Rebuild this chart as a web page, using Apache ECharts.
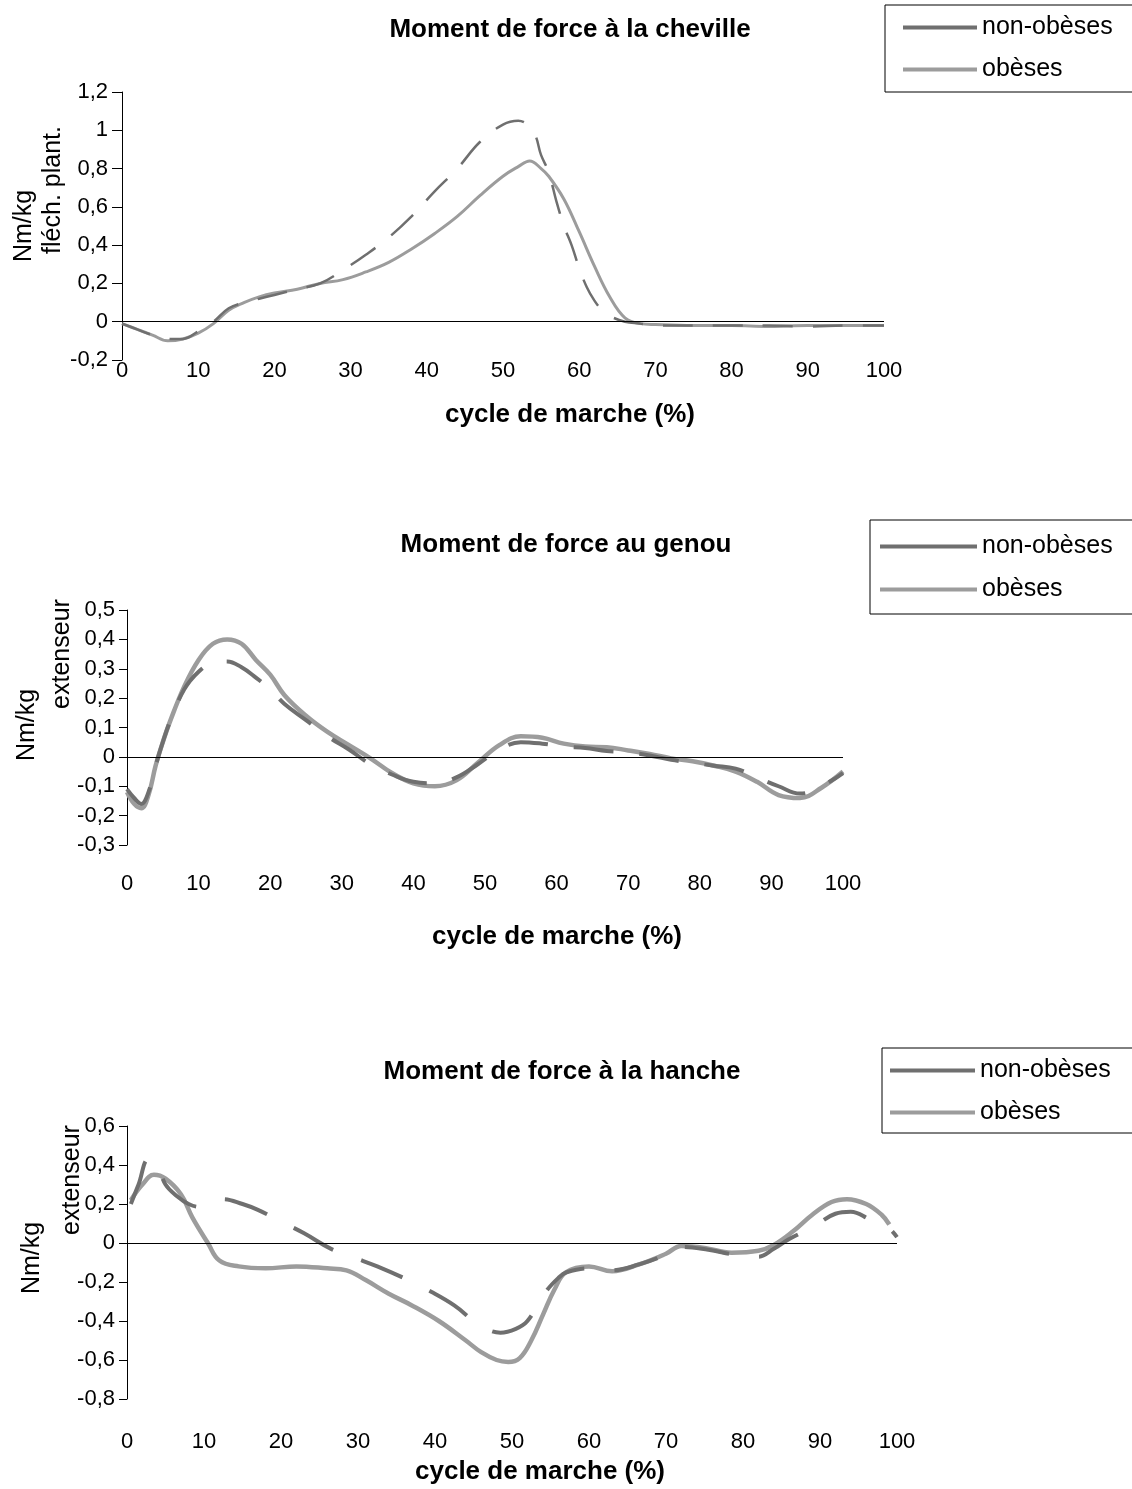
<!DOCTYPE html>
<html>
<head>
<meta charset="utf-8">
<script src="https://cdn.jsdelivr.net/npm/echarts@6/dist/echarts.min.js"></script>
<style>
  html, body { margin: 0; padding: 0; background: #fff; }
  #main { width: 1132px; height: 1489px; }
</style>
</head>
<body>
<div id="main"></div>
<script>
// cheville
const ankleObeseX = [0, 2, 4, 6, 8, 10, 12, 14, 16, 18, 20, 23, 26, 29, 32, 35, 38, 41, 44, 47, 50, 52, 53.5, 55, 56, 58, 60, 62, 64, 66, 68, 70, 75, 80, 85, 90, 95, 100];
const ankleObese = [-0.01, -0.04, -0.07, -0.1, -0.09, -0.06, -0.01, 0.06, 0.1, 0.13, 0.15, 0.17, 0.2, 0.22, 0.26, 0.31, 0.38, 0.46, 0.55, 0.66, 0.76, 0.81, 0.84, 0.8, 0.76, 0.64, 0.47, 0.29, 0.13, 0.02, -0.01, -0.015, -0.02, -0.02, -0.025, -0.02, -0.02, -0.02];
const ankleNonObeseX = [0, 2, 4, 6, 8, 10, 12, 14, 16, 18, 20, 23, 26, 29, 32, 35, 38, 41, 44, 47, 50, 52, 54, 55, 56, 57, 58, 59, 60, 61, 62, 63, 64, 66, 68, 70, 75, 80, 85, 90, 95, 100];
const ankleNonObese = [-0.01, -0.04, -0.07, -0.09, -0.09, -0.05, 0, 0.07, 0.1, 0.12, 0.14, 0.17, 0.2, 0.27, 0.35, 0.44, 0.55, 0.68, 0.8, 0.94, 1.03, 1.05, 0.99, 0.87, 0.78, 0.63, 0.5, 0.4, 0.28, 0.18, 0.11, 0.06, 0.03, 0, -0.01, -0.02, -0.02, -0.02, -0.02, -0.025, -0.02, -0.02];

// genou
const kneeCycle = [0, 1, 2, 3, 4, 5, 6, 8, 10, 12, 14, 16, 18, 20, 22, 25, 28, 31, 34, 37, 40, 43, 46, 49, 52, 55, 58, 61, 64, 67, 70, 73, 76, 79, 82, 85, 88, 91, 94, 97, 100];
const kneeObese = [-0.12, -0.16, -0.175, -0.13, -0.03, 0.05, 0.12, 0.24, 0.33, 0.385, 0.4, 0.385, 0.33, 0.28, 0.21, 0.14, 0.085, 0.04, -0.005, -0.055, -0.09, -0.1, -0.08, -0.02, 0.04, 0.07, 0.065, 0.045, 0.035, 0.033, 0.022, 0.01, -0.005, -0.015, -0.03, -0.05, -0.085, -0.13, -0.14, -0.105, -0.05];
const kneeNonObese = [-0.11, -0.14, -0.16, -0.12, -0.03, 0.05, 0.12, 0.23, 0.29, 0.32, 0.325, 0.305, 0.27, 0.23, 0.18, 0.125, 0.07, 0.025, -0.025, -0.06, -0.085, -0.09, -0.07, -0.025, 0.025, 0.05, 0.045, 0.035, 0.03, 0.02, 0.015, 0.005, -0.01, -0.02, -0.03, -0.04, -0.07, -0.1, -0.125, -0.1, -0.055];

// hanche
const hipObeseX = [0.5, 2, 3.5, 5, 7, 8.5, 10.5, 12, 14.5, 18, 22, 26, 28.5, 31, 34, 37, 40.5, 44, 46, 48, 49.5, 51, 52.5, 54, 55.5, 57, 60, 63, 66.5, 70, 72, 75, 78.5, 82, 84, 86.5, 89, 91.5, 93.5, 96, 98, 99];
const hipObese = [0.22, 0.3, 0.35, 0.33, 0.25, 0.13, 0, -0.09, -0.12, -0.13, -0.12, -0.13, -0.14, -0.19, -0.26, -0.32, -0.4, -0.5, -0.56, -0.6, -0.61, -0.59, -0.5, -0.37, -0.24, -0.15, -0.12, -0.145, -0.11, -0.055, -0.015, -0.025, -0.05, -0.04, -0.01, 0.06, 0.145, 0.21, 0.225, 0.2, 0.145, 0.095];
const hipNonObeseX = [0.5, 1.5, 2.8, 3.8, 5, 6.5, 8, 9.5, 11, 12.5, 15, 17, 20, 23, 26.5, 29.5, 32.5, 36.5, 39.5, 42.5, 45.8, 48.5, 50.5, 52, 54.4, 56, 57.1, 60, 63, 66.5, 70, 72, 75.5, 79, 82, 84, 86, 89, 92, 94, 96.5, 98.8, 100];
const hipNonObese = [0.2, 0.3, 0.43, 0.41, 0.3, 0.24, 0.2, 0.185, 0.2, 0.225, 0.2, 0.17, 0.11, 0.05, -0.03, -0.075, -0.12, -0.19, -0.25, -0.32, -0.42, -0.46, -0.44, -0.4, -0.25, -0.18, -0.15, -0.13, -0.14, -0.11, -0.06, -0.02, -0.035, -0.06, -0.07, -0.03, 0.02, 0.08, 0.15, 0.16, 0.12, 0.08, 0.03];

const seriesNames = ['non-obèses', 'obèses'];
const titles = ['Moment de force à la cheville', 'Moment de force au genou', 'Moment de force à la hanche'];

const FONT = '"Liberation Sans", Arial, sans-serif';
const pts = (xs, ys) => xs.map((x, i) => [x, ys[i]]);
const comma = v => String(Math.round(v * 10) / 10).replace('.', ',');

const grids = [
  { left: 122, top: 92, width: 762, height: 268 },
  { left: 127, top: 610, width: 716, height: 235 },
  { left: 127, top: 1126, width: 770, height: 273 }
];
const yRanges = [[-0.2, 1.2, 0.2], [-0.3, 0.5, 0.1], [-0.8, 0.6, 0.2]];
const labelMargins = [0, 28, 32];
const tickLens = [10, 8, 8];
const dashes = [[30, 20], [40, 26], [45, 30]];
const widths = [3, 4.5, 4.5];

let xAxes = [], yAxes = [], series = [];
grids.forEach((g, i) => {
  xAxes.push({
    gridIndex: i, type: 'value', min: 0, max: 100, interval: 10,
    axisLine: { show: false, onZero: false },
    axisTick: { show: false },
    splitLine: { show: false },
    axisLabel: { fontFamily: FONT, fontSize: 22, color: '#000', margin: labelMargins[i] }
  });
  yAxes.push({
    gridIndex: i, type: 'value', min: yRanges[i][0], max: yRanges[i][1], interval: yRanges[i][2],
    axisLine: { show: true, lineStyle: { color: '#000', width: 1 } },
    axisTick: { show: true, length: tickLens[i], lineStyle: { color: '#000' } },
    splitLine: { show: false },
    axisLabel: { fontFamily: FONT, fontSize: 22, color: '#000', margin: tickLens[i] + 4, formatter: comma }
  });
});

const sets = [
  [pts(ankleObeseX, ankleObese), pts(ankleNonObeseX, ankleNonObese)],
  [pts(kneeCycle, kneeObese), pts(kneeCycle, kneeNonObese)],
  [pts(hipObeseX, hipObese), pts(hipNonObeseX, hipNonObese)]
];
sets.forEach((s, i) => {
  series.push({
    name: 'obèses', type: 'line', xAxisIndex: i, yAxisIndex: i,
    data: s[0], smooth: 0.4, symbol: 'none', animation: false,
    lineStyle: { color: '#9c9c9c', width: widths[i] },
    itemStyle: { color: '#9c9c9c' },
    markLine: {
      silent: true, symbol: 'none', label: { show: false }, animation: false,
      lineStyle: { color: '#000', type: 'solid', width: 1 },
      data: [{ yAxis: 0 }]
    }
  });
  series.push({
    name: 'non-obèses', type: 'line', xAxisIndex: i, yAxisIndex: i,
    data: s[1], smooth: 0.4, symbol: 'none', animation: false,
    lineStyle: { color: '#6f6f6f', width: widths[i] - 0.5, type: dashes[i] },
    itemStyle: { color: '#6f6f6f' }
  });
});

const legendBase = {
  orient: 'vertical', borderColor: '#000', borderWidth: 1,
  data: seriesNames, icon: 'rect', itemHeight: 4,
  textStyle: { fontFamily: FONT, fontSize: 25, color: '#000' }
};
const legends = [
  Object.assign({}, legendBase, { left: 885, top: 5, itemWidth: 74, itemGap: 17, padding: [10, 40, 10, 18] }),
  Object.assign({}, legendBase, { left: 870, top: 520, itemWidth: 97, itemGap: 18, padding: [14, 40, 12, 10] }),
  Object.assign({}, legendBase, { left: 882, top: 1048, itemWidth: 85, itemGap: 17, padding: [10, 40, 8, 8] })
];

const txt = (text, x, y, size, bold, rot) => ({
  type: 'text', x: x, y: y, rotation: rot || 0, silent: true,
  style: {
    text: text, fill: '#000', align: 'center', verticalAlign: 'middle',
    font: (bold ? 'bold ' : '') + size + 'px ' + FONT
  }
});
const R = Math.PI / 2;
const graphics = [
  txt(titles[0], 570, 30, 26, true),
  txt(titles[1], 566, 545, 26, true),
  txt(titles[2], 562, 1072, 26, true),
  txt('cycle de marche (%)', 570, 415, 26, true),
  txt('cycle de marche (%)', 557, 937, 26, true),
  txt('cycle de marche (%)', 540, 1472, 26, true),
  txt('Nm/kg', 24, 226, 25, false, R),
  txt('fléch. plant.', 53, 190, 25, false, R),
  txt('Nm/kg', 27, 725, 25, false, R),
  txt('extenseur', 62, 654, 25, false, R),
  txt('Nm/kg', 32, 1258, 25, false, R),
  txt('extenseur', 72, 1180, 25, false, R)
];

const myChart = echarts.init(document.getElementById('main'));
myChart.setOption({
  backgroundColor: '#fff',
  animation: false,
  grid: grids,
  xAxis: xAxes,
  yAxis: yAxes,
  legend: legends,
  graphic: graphics,
  series: series
});
</script>
</body>
</html>
